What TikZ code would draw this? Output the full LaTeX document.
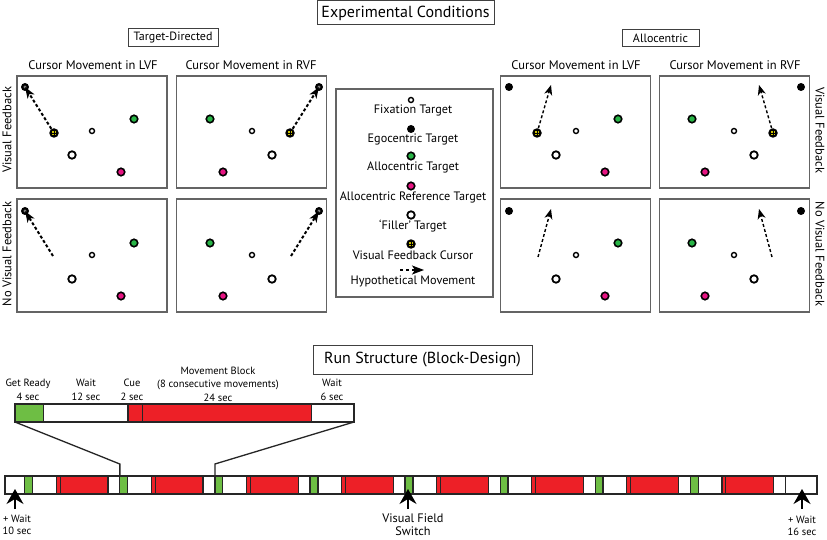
\documentclass[tikz,border=0pt]{standalone}
\usepackage{fontspec}
\setmainfont{PT Sans}
\usetikzlibrary{arrows.meta}
\definecolor{mygreen}{RGB}{110,190,68}
\definecolor{myred}{RGB}{237,32,39}
\definecolor{dotgreen}{RGB}{40,180,70}
\definecolor{dotmag}{RGB}{230,20,130}
\definecolor{curyel}{RGB}{205,195,0}
\definecolor{panelgray}{RGB}{100,100,100}
\tikzset{
  panel/.style={draw=panelgray, line width=1.3pt, minimum width=150pt, minimum height=112pt, inner sep=0pt},
  titlebox/.style={draw=black!75, line width=1pt, inner sep=0pt, font=\fontsize{16}{18}\selectfont},
  subbox/.style={draw=black!75, line width=1pt, inner sep=0pt, font=\fontsize{12}{14}\selectfont},
  ptitle/.style={font=\fontsize{12.5}{14}\selectfont, inner sep=0pt},
  sidelab/.style={font=\fontsize{12.5}{14}\selectfont, inner sep=0pt},
  legtxt/.style={font=\fontsize{12.2}{14}\selectfont, inner sep=0pt},
  runlab/.style={font=\fontsize{10.5}{13.5}\selectfont, align=center, inner sep=0pt},
  egodot/.style={circle, fill=black, minimum size=8pt, inner sep=0pt},
  fixdot/.style={circle, fill=white, draw=black, line width=1.4pt, minimum size=5pt, inner sep=0pt},
  filldot/.style={circle, fill=white, draw=black, line width=1.8pt, minimum size=7.5pt, inner sep=0pt},
  allodot/.style={circle, fill=dotgreen, draw=black, line width=1.6pt, minimum size=7.5pt, inner sep=0pt},
  refdot/.style={circle, fill=dotmag, draw=black, line width=1.6pt, minimum size=7.5pt, inner sep=0pt},
  curdot/.style={circle, fill=black, minimum size=9.5pt, inner sep=0pt},
  tdarrow/.style={line width=2pt, dash pattern=on 3pt off 2.2pt, shorten >=-4pt, -{Stealth[length=11pt,width=8pt,inset=3pt]}},
  alarrow/.style={line width=1.4pt, dash pattern=on 3pt off 2.2pt, -{Stealth[length=10pt,width=8pt,inset=3pt]}},
  legarrow/.style={line width=1.6pt, dash pattern=on 3pt off 3pt, -{Stealth[length=12pt,width=9pt,inset=3pt]}},
  seg/.style={draw=black!85, line width=1.2pt, inner sep=0pt, outer sep=0pt, minimum height=18pt},
  uparr/.style={line width=1.3pt, -{Stealth[length=15pt,width=17pt,inset=5pt]}},
  conn/.style={line width=1.3pt, black!85},
}
\newcommand\basedots[1]{%
  \node[fixdot] (#1fx) at (75,55) {};
  \node[allodot] (#1al) at (117,43) {};
  \node[filldot] (#1fl) at (55,79) {};
  \node[refdot] (#1rf) at (104,96) {};
}
\newcommand\mycursor[2]{%
  \node[curdot] (#1) at #2 {};
  \fill[curyel] ([xshift=-2.3pt,yshift=-2.3pt]#1.center) rectangle ([xshift=2.3pt,yshift=2.3pt]#1.center);
  \draw[line width=0.6pt] ([xshift=-2.3pt]#1.center) -- ([xshift=2.3pt]#1.center)
        ([yshift=-2.3pt]#1.center) -- ([yshift=2.3pt]#1.center);
}
\newcommand\hittarget[2]{%
  \node[egodot] (#1) at #2 {};
  \fill[black!50] (#1.center) circle (1.6);
}
\begin{document}
\begin{tikzpicture}[x=1pt,y=-1pt]
\useasboundingbox[fill=white] (0,0) rectangle (827,540);

% ---------- Titles ----------
\node[titlebox, minimum width=177pt, minimum height=24pt] (tEC) at (405.5,13) {Experimental Conditions};
\node[subbox, minimum width=90pt, minimum height=18pt] (tTD) at (173,38) {Target-Directed};
\node[subbox, minimum width=77pt, minimum height=17pt] (tAL) at (660.5,38.5) {Allocentric};

\node[ptitle] (p1) at (93,65) {Cursor Movement in LVF};
\node[ptitle] (p2) at (251,65) {Cursor Movement in RVF};
\node[ptitle] (p3) at (576,65) {Cursor Movement in LVF};
\node[ptitle] (p4) at (735,65) {Cursor Movement in RVF};

\node[sidelab, rotate=90] (sl1) at (7,130) {Visual Feedback};
\node[sidelab, rotate=90] (sl2) at (7,254) {No Visual Feedback};
\node[sidelab, rotate=-90] (sr1) at (820,130) {Visual Feedback};
\node[sidelab, rotate=-90] (sr2) at (820,254) {No Visual Feedback};

% ---------- Panels ----------
\node[panel] (P1) at (92,132) {};
\node[panel] (P2) at (251.5,132) {};
\node[panel, minimum height=113pt] (P3) at (92,255.5) {};
\node[panel, minimum height=113pt] (P4) at (251.5,255.5) {};
\node[panel] (P5) at (575.5,132) {};
\node[panel] (P6) at (734.5,132) {};
\node[panel, minimum height=113pt] (P7) at (575.5,255.5) {};
\node[panel, minimum height=113pt] (P8) at (734.5,255.5) {};

% Target-directed, visual feedback, LVF
\begin{scope}[shift={(17,76)}]
  \basedots{a}
  \hittarget{atg}{(8,11)}
  \mycursor{acur}{(37,57)}
  \draw[tdarrow] (acur) -- (atg);
\end{scope}
% Target-directed, visual feedback, RVF (mirrored)
\begin{scope}[shift={(327,76)}, xscale=-1]
  \basedots{b}
  \hittarget{btg}{(8,11)}
  \mycursor{bcur}{(37,57)}
  \draw[tdarrow] (bcur) -- (btg);
\end{scope}
% Target-directed, no visual feedback, LVF
\begin{scope}[shift={(17,200)}]
  \basedots{c}
  \hittarget{ctg}{(8,11)}
  \coordinate (cst) at (36,56);
  \draw[tdarrow] (cst) -- (ctg);
\end{scope}
% Target-directed, no visual feedback, RVF
\begin{scope}[shift={(327,200)}, xscale=-1]
  \basedots{d}
  \hittarget{dtg}{(8,11)}
  \coordinate (dst) at (36,56);
  \draw[tdarrow] (dst) -- (dtg);
\end{scope}
% Allocentric, visual feedback, LVF
\begin{scope}[shift={(501,76)}]
  \basedots{e}
  \node[egodot] (etg) at (8,11) {};
  \mycursor{ecur}{(36,57)}
  \coordinate (eend) at (50,9);
  \draw[alarrow] (ecur) -- (eend);
\end{scope}
% Allocentric, visual feedback, RVF
\begin{scope}[shift={(809,76)}, xscale=-1]
  \basedots{f}
  \node[egodot] (ftg) at (8,11) {};
  \mycursor{fcur}{(36,57)}
  \coordinate (fend) at (50,9);
  \draw[alarrow] (fcur) -- (fend);
\end{scope}
% Allocentric, no visual feedback, LVF
\begin{scope}[shift={(501,200)}]
  \basedots{g}
  \node[egodot] (gtg) at (8,11) {};
  \coordinate (gst) at (37,57);
  \coordinate (gend) at (50,9);
  \draw[alarrow] (gst) -- (gend);
\end{scope}
% Allocentric, no visual feedback, RVF
\begin{scope}[shift={(809,200)}, xscale=-1]
  \basedots{h}
  \node[egodot] (htg) at (8,11) {};
  \coordinate (hst) at (37,57);
  \coordinate (hend) at (50,9);
  \draw[alarrow] (hst) -- (hend);
\end{scope}

% ---------- Legend ----------
\node[panel, minimum width=157pt, minimum height=208pt] (LEG) at (414.5,193) {};
\node[fixdot] (l1) at (411,100) {};
\node[legtxt] (l1t) at (413,110) {Fixation Target};
\node[egodot] (l2) at (411,129) {};
\node[legtxt] (l2t) at (413,139) {Egocentric Target};
\node[allodot] (l3) at (411,156) {};
\node[legtxt] (l3t) at (413,167) {Allocentric Target};
\node[refdot] (l4) at (411,186) {};
\node[legtxt] (l4t) at (413,197) {Allocentric Reference Target};
\node[filldot] (l5) at (411,215) {};
\node[legtxt] (l5t) at (413,226) {‘Filler’ Target};
\mycursor{l6}{(411,244)}
\node[legtxt] (l6t) at (413,255) {Visual Feedback Cursor};
\coordinate (l7a) at (400,270);
\coordinate (l7b) at (424,270);
\draw[legarrow] (l7a) -- (l7b);
\node[legtxt] (l7t) at (413,281) {Hypothetical Movement};

% ---------- Run structure ----------
\node[titlebox, minimum width=219pt, minimum height=29pt] (tRS) at (422.5,359.5) {Run Structure (Block-Design)};

\node[runlab] (rl1) at (28,390) {Get Ready\\4 sec};
\node[runlab] (rl2) at (86,390) {Wait\\12 sec};
\node[runlab] (rl3) at (132,390) {Cue\\2 sec};
\node[runlab] (rl4) at (218,384) {Movement Block\\(8 consecutive movements)\\24 sec};
\node[runlab] (rl5) at (332,390) {Wait\\6 sec};

% expanded block
\node[seg, fill=mygreen, minimum width=28.25pt, anchor=north west] (tg) at (15,404) {};
\node[seg, fill=white, minimum width=84.75pt, anchor=north west] (tw1) at (43.25,404) {};
\node[seg, fill=myred, minimum width=14.1pt, anchor=north west] (tc) at (128,404) {};
\node[seg, fill=myred, minimum width=169.5pt, anchor=north west] (tr) at (142.1,404) {};
\node[seg, fill=white, minimum width=42.4pt, anchor=north west] (tw2) at (311.6,404) {};

% full run bar
\node[seg, fill=white, minimum width=812pt, anchor=north west] (bar) at (5,476) {};
\foreach \i in {0,...,7}{
  \pgfmathsetmacro{\b}{24.805+\i*95.06}
  \pgfmathsetmacro{\bw}{\b+7.92}
  \pgfmathsetmacro{\bc}{\b+31.69}
  \pgfmathsetmacro{\br}{\b+35.65}
  \pgfmathsetmacro{\bv}{\b+83.18}
  \node[seg, fill=mygreen, minimum width=7.92pt, anchor=north west] (g\i) at (\b,476) {};
  \node[seg, fill=white, minimum width=23.77pt, anchor=north west] (w\i) at (\bw,476) {};
  \node[seg, fill=myred, minimum width=3.96pt, anchor=north west] (c\i) at (\bc,476) {};
  \node[seg, fill=myred, minimum width=47.53pt, anchor=north west] (r\i) at (\br,476) {};
  \node[seg, fill=white, minimum width=11.88pt, anchor=north west] (v\i) at (\bv,476) {};
}
\node[seg, fill=none, minimum width=812pt, anchor=north west] (barline) at (5,476) {};

% zoom connectors
\draw[conn] (tg.south west) -- ([yshift=12pt]g1.north west) -- (g1.north west);
\draw[conn] (tw2.south east) -- ([yshift=12pt]g2.north west) -- (g2.north west);

% bottom arrows
\coordinate (aLb) at (15,509);
\coordinate (aLt) at (15,489);
\draw[uparr] (aLb) -- (aLt);
\coordinate (aMb) at (408,509);
\coordinate (aMt) at (408,489);
\draw[uparr] (aMb) -- (aMt);
\coordinate (aRb) at (802,509);
\coordinate (aRt) at (802,489);
\draw[uparr] (aRb) -- (aRt);

\node[runlab, font=\fontsize{10.5}{12.5}\selectfont] (bl1) at (17,525) {+ Wait\\10 sec};
\node[ptitle, align=center, font=\fontsize{12.3}{13}\selectfont] (bl2) at (413,525) {Visual Field\\Switch};
\node[runlab, font=\fontsize{10.5}{12.5}\selectfont] (bl3) at (802,526) {+ Wait\\16 sec};
\end{tikzpicture}
\end{document}
